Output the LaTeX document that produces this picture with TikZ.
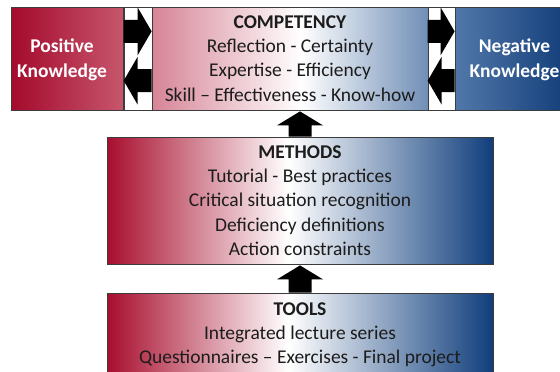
\documentclass[tikz,border=0pt]{standalone}
\usepackage{fontspec}
\setmainfont{Carlito}
\usetikzlibrary{calc}

% palette
\definecolor{dred}{RGB}{168,14,46}
\definecolor{dblue}{RGB}{16,62,124}
\definecolor{cpink}{RGB}{214,132,150}
\definecolor{cblue}{RGB}{112,142,182}
\definecolor{pdark}{RGB}{164,10,44}
\definecolor{plight}{RGB}{198,86,108}
\definecolor{nlight}{RGB}{82,120,170}
\definecolor{ndark}{RGB}{14,58,118}
\definecolor{edge}{RGB}{60,60,60}
\definecolor{ink}{RGB}{28,28,28}

% horizontal gradients (the 25bp..75bp band spans the filled box)
\pgfdeclarehorizontalshading{layershade}{100bp}{color(0bp)=(dred); color(25bp)=(dred);
  color(48.5bp)=(white); color(75bp)=(dblue); color(100bp)=(dblue)}
\pgfdeclarehorizontalshading{compshade}{100bp}{color(0bp)=(cpink); color(25bp)=(cpink);
  color(52bp)=(white); color(75bp)=(cblue); color(100bp)=(cblue)}
\pgfdeclarehorizontalshading{posshade}{100bp}{color(0bp)=(pdark); color(25bp)=(pdark);
  color(75bp)=(plight); color(100bp)=(plight)}
\pgfdeclarehorizontalshading{negshade}{100bp}{color(0bp)=(nlight); color(25bp)=(nlight);
  color(75bp)=(ndark); color(100bp)=(ndark)}

% block arrows: shaft 23 units wide, head 48 wide and 14 long
\newcommand\blockup[2]{\fill[black] let \p1=(#1), \p2=(#2) in
  (\x1-8.625pt,\y1) -- (\x1-8.625pt,\y2-10.5pt) -- (\x1-17.25pt,\y2-10.5pt) -- (\x1,\y2)
  -- (\x1+17.25pt,\y2-10.5pt) -- (\x1+8.625pt,\y2-10.5pt) -- (\x1+8.625pt,\y1) -- cycle;}
\newcommand\blockright[2]{\fill[black] let \p1=(#1), \p2=(#2) in
  (\x1,\y1+8.625pt) -- (\x2-10.5pt,\y1+8.625pt) -- (\x2-10.5pt,\y1+18pt) -- (\x2,\y1)
  -- (\x2-10.5pt,\y1-18pt) -- (\x2-10.5pt,\y1-8.625pt) -- (\x1,\y1-8.625pt) -- cycle;}
\newcommand\blockleft[2]{\fill[black] let \p1=(#1), \p2=(#2) in
  (\x1,\y1+8.625pt) -- (\x2+10.5pt,\y1+8.625pt) -- (\x2+10.5pt,\y1+18pt) -- (\x2,\y1)
  -- (\x2+10.5pt,\y1-18pt) -- (\x2+10.5pt,\y1-8.625pt) -- (\x1,\y1-8.625pt) -- cycle;}

\begin{document}
\begin{tikzpicture}[x=0.75pt,y=-0.75pt,
  box/.style={draw=edge, line width=0.6pt, rectangle, inner sep=0pt, align=center,
    text=ink, font=\fontsize{14.6}{18.2}\selectfont},
  gapbox/.style={draw=edge, line width=0.5pt, fill=white, rectangle, inner sep=0pt},
  sidetext/.style={align=center, text=white, inner sep=0pt,
    font=\fontsize{14.6}{18.6}\selectfont\bfseries}]
\useasboundingbox (0,0) rectangle (560,371);
\clip (0,0) rectangle (560,371);

% white strips holding the exchange arrows
\node[gapbox, minimum width=21pt, minimum height=77.25pt] (gapL) at (138,58.5) {};
\node[gapbox, minimum width=20.25pt, minimum height=77.25pt] (gapR) at (441.5,58.5) {};

% knowledge boxes
\node[box, shading=posshade, minimum width=84pt, minimum height=77.25pt] (pos) at (67,58.5) {};
\node[sidetext] (postxt) at (62,59.5) {Positive\\Knowledge};
\node[box, shading=negshade, minimum width=90pt, minimum height=77.25pt] (neg) at (515,58.5) {};
\node[sidetext] (negtxt) at (514.5,59.5) {Negative\\Knowledge};

% layered boxes
\node[box, shading=compshade, minimum width=207pt, minimum height=77.25pt] (comp) at (290,58.5)
  {\textbf{COMPETENCY}\\Reflection - Certainty\\Expertise - Efficiency\\Skill – Effectiveness - Know-how};
\node[box, shading=layershade, minimum width=289.5pt, minimum height=95.25pt] (meth) at (300,200.5)
  {\textbf{METHODS}\\Tutorial - Best practices\\Critical situation recognition\\Deficiency definitions\\Action constraints};
\node[box, shading=layershade, minimum width=289.5pt, minimum height=63pt] (tools) at (300,335)
  {\textbf{TOOLS}\\Integrated lecture series\\Questionnaires – Exercises - Final project};

% exchange arrows on the left
\coordinate (l1) at ($(gapL.north west)!0.238!(gapL.south west)$);
\coordinate (l2) at ($(gapL.north west)!0.714!(gapL.south west)$);
\blockright{l1}{comp.west |- l1}
\blockleft{comp.west |- l2}{l2}

% exchange arrows on the right
\coordinate (r1) at ($(gapR.north west)!0.238!(gapR.south west)$);
\coordinate (r2) at ($(gapR.north west)!0.714!(gapR.south west)$);
\blockright{r1}{neg.west |- r1}
\blockleft{neg.west |- r2}{r2}

% upward arrows between the layers
\blockup{meth.north}{$(meth.north |- comp.south)+(0,1)$}
\blockup{tools.north}{$(tools.north |- meth.south)+(0,1)$}
\end{tikzpicture}
\end{document}
